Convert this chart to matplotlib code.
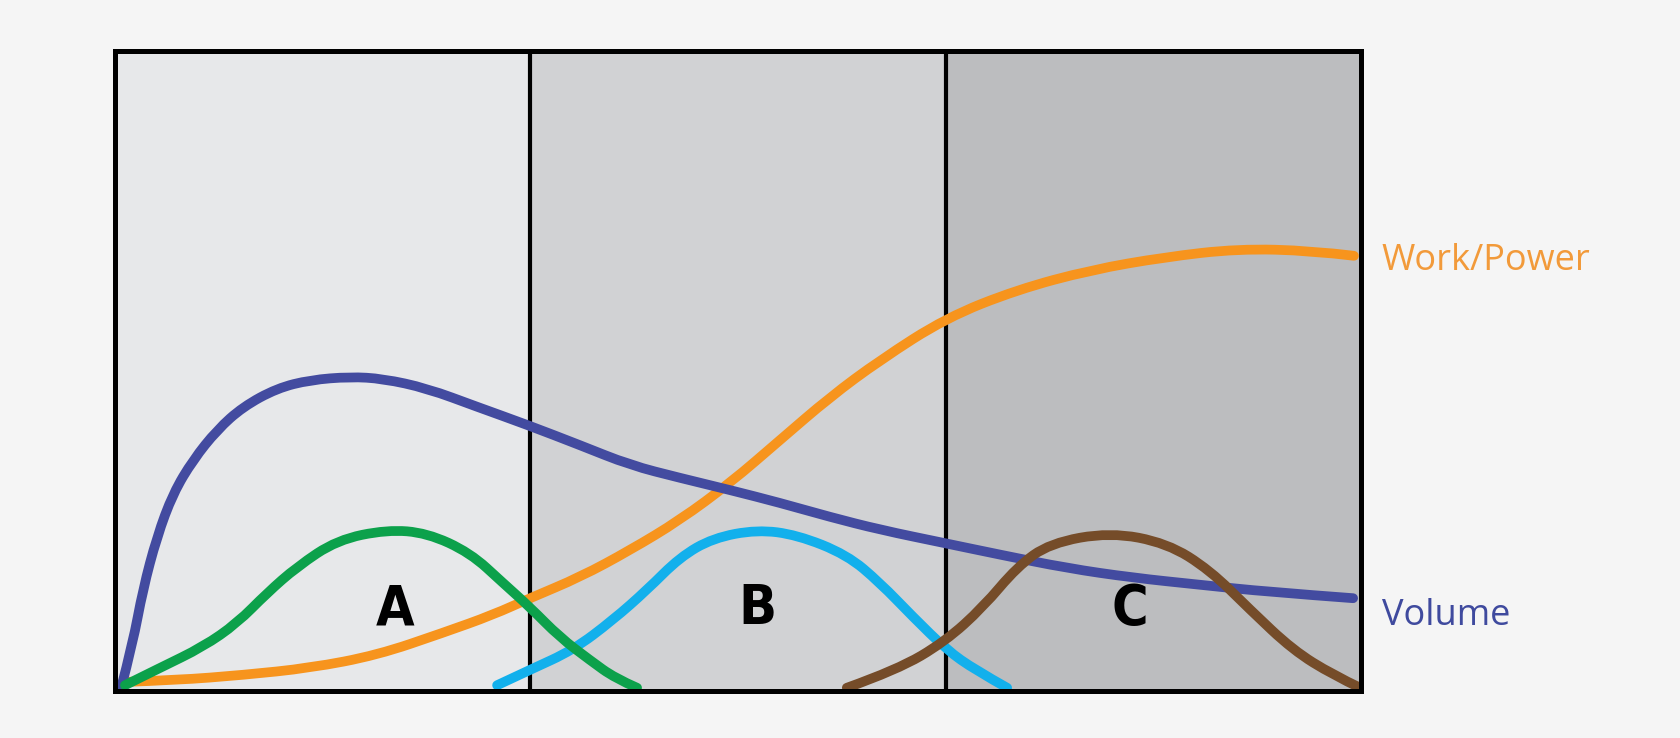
import matplotlib
matplotlib.use("Agg")
import matplotlib.pyplot as plt
from matplotlib.path import Path
from matplotlib.patches import PathPatch

# x in phase units (0-3, one per shaded zone), y in relative units (0-100)
vol_x = [0.014, 0.043, 0.067, 0.101, 0.140, 0.188, 0.246, 0.308, 0.390, 0.470,
         0.566, 0.645, 0.751, 0.872, 0.992, 1.120, 1.240, 1.360, 1.481, 1.601,
         1.721, 1.842, 1.998, 2.131, 2.292, 2.451, 2.612, 2.774, 2.981]
vol_y = [0.3, 7.5, 15.8, 24.1, 30.9, 36.1, 40.8, 44.4, 47.3, 48.6,
         49.1, 48.8, 47.3, 44.4, 41.6, 38.4, 35.3, 33.3, 31.4, 29.4,
         27.2, 25.2, 23.1, 21.3, 19.2, 17.7, 16.6, 15.5, 14.5]

pow_x = [0.019, 0.149, 0.308, 0.470, 0.631, 0.790, 0.910, 0.999, 1.120, 1.240,
         1.360, 1.481, 1.601, 1.721, 1.842, 2.001, 2.172, 2.350, 2.528, 2.704,
         2.882, 2.983]
pow_y = [1.4, 1.7, 2.5, 3.6, 5.6, 9.1, 11.9, 14.5, 17.8, 22.0,
         26.7, 32.5, 39.2, 45.9, 51.7, 58.3, 62.7, 65.8, 67.8, 69.1,
         68.8, 68.0]

a_x = [0.024, 0.108, 0.212, 0.294, 0.366, 0.438, 0.535, 0.655, 0.751, 0.855,
       0.934, 0.999, 1.071, 1.144, 1.204, 1.257]
a_y = [0.9, 3.6, 6.9, 10.6, 15.3, 19.4, 23.6, 25.2, 24.7, 21.6,
       16.9, 13.1, 8.4, 4.8, 2.0, 0.5]

b_x = [0.920, 0.999, 1.103, 1.199, 1.281, 1.360, 1.440, 1.546, 1.642, 1.762,
       1.842, 1.921, 2.003, 2.071, 2.148]
b_y = [0.9, 3.3, 6.4, 11.1, 15.8, 20.9, 23.9, 25.2, 24.4, 21.3,
       16.9, 11.6, 6.4, 3.3, 0.5]

c_x = [1.762, 1.883, 1.998, 2.090, 2.172, 2.251, 2.396, 2.533, 2.636, 2.733,
       2.836, 2.933, 2.998]
c_y = [0.5, 3.3, 7.7, 13.1, 19.4, 23.1, 24.8, 23.1, 18.9, 12.7,
       6.4, 2.5, 0.5]

zones = ["A", "B", "C"]
zone_label_x = [0.674, 1.548, 2.444]
zone_label_y = 12.8
zone_colors = ["#e7e8ea", "#d1d2d4", "#bcbdbf"]


def smooth_curve(xs, ys):
    # quadratic bezier through midpoints, using the read points as controls
    verts = [(xs[0], ys[0])]
    codes = [Path.MOVETO]
    n = len(xs)
    for i in range(1, n - 1):
        if i == n - 2:
            end = (xs[-1], ys[-1])
        else:
            end = ((xs[i] + xs[i + 1]) / 2, (ys[i] + ys[i + 1]) / 2)
        verts += [(xs[i], ys[i]), end]
        codes += [Path.CURVE3, Path.CURVE3]
    return Path(verts, codes)


fig = plt.figure(figsize=(16.8, 7.38), dpi=100, facecolor="#f5f5f5")
ax = fig.add_axes([115 / 1680, 47 / 738, 1246 / 1680, 640 / 738])
ax.set_xlim(0, 3)
ax.set_ylim(0, 100)

for i, col in enumerate(zone_colors):
    ax.axvspan(i, i + 1, color=col, lw=0, zorder=0)
for xv in [1, 2]:
    ax.axvline(xv, color="black", lw=3, zorder=1)

lw = 7
series = [
    (pow_x, pow_y, "#f7941d"),
    (vol_x, vol_y, "#434ba0"),
    (b_x, b_y, "#12b0ec"),
    (a_x, a_y, "#0ca14b"),
    (c_x, c_y, "#754c29"),
]
for z, (xs, ys, col) in enumerate(series):
    patch = PathPatch(smooth_curve(xs, ys), fill=False, edgecolor=col, lw=lw,
                      capstyle="round", joinstyle="round", zorder=3 + z)
    ax.add_patch(patch)

for lab, xv in zip(zones, zone_label_x):
    ax.text(xv, zone_label_y, lab, ha="center", va="center", fontsize=40,
            fontweight="bold", fontstretch="condensed",
            family=["Liberation Sans Narrow", "DejaVu Sans Condensed", "DejaVu Sans"],
            color="black", zorder=9)

ax.text(3.05, 65.8, "Work/Power", ha="left", va="baseline", fontsize=26,
        family=["Open Sans", "DejaVu Sans"], color="#f29a3a", clip_on=False)
ax.text(3.05, 10.3, "Volume", ha="left", va="baseline", fontsize=26,
        family=["Open Sans", "DejaVu Sans"], color="#3f4a9e", clip_on=False)

ax.set_xticks([])
ax.set_yticks([])
for sp in ax.spines.values():
    sp.set_color("black")
    sp.set_linewidth(3.6)
    sp.set_zorder(10)

fig.savefig("out.png", dpi=100, facecolor=fig.get_facecolor())
